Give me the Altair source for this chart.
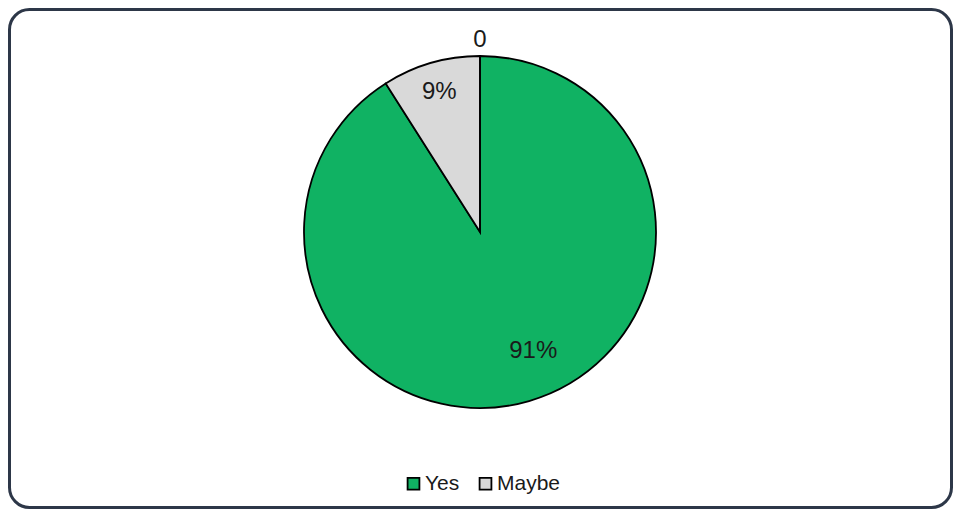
import altair as alt
import pandas as pd

categories = ["Yes", "Maybe", "No"]
values = [91, 9, 0]
labels = ["91%", "9%", "0"]
colors = ["#10b263", "#d9d9d9", "#ffffff"]

df = pd.DataFrame({"cat": categories, "value": values, "label": labels,
                   "ord": list(range(len(categories)))})

W, H = 945, 501
CX, CY = 472, 224
FONT = "Liberation Sans"

frame = alt.Chart(pd.DataFrame({"k": [0]})).mark_rect(
    fill="white", stroke="#2d3748", strokeWidth=3, cornerRadius=20
).encode(x=alt.value(1.5), x2=alt.value(W - 1.5), y=alt.value(1.5), y2=alt.value(H - 1.5))

base = alt.Chart(df).encode(
    theta=alt.Theta("value:Q", stack=True),
    order=alt.Order("ord:Q"),
    x=alt.value(CX), y=alt.value(CY),
)

arc = base.mark_arc(outerRadius=176, stroke="black", strokeWidth=1.8).encode(
    color=alt.Color("cat:N",
                    scale=alt.Scale(domain=categories, range=colors),
                    legend=alt.Legend(title=None, values=["Yes", "Maybe"], orient="none",
                                      direction="horizontal", legendX=395, legendY=465,
                                      symbolType="square", symbolSize=140,
                                      symbolStrokeColor="black", symbolStrokeWidth=1.8,
                                      symbolOpacity=1,
                                      labelFont=FONT, labelFontSize=21, labelColor="#1a1a1a",
                                      labelOffset=1, columnPadding=15, padding=0))
)

def lab(cat, radius, dx=0, dy=0):
    return base.mark_text(radius=radius, dx=dx, dy=dy, font=FONT, fontSize=24,
                          color="#1a1a1a").encode(
        text=alt.condition(f"datum.cat == '{cat}'", "label:N", alt.value(""))
    )

chart = alt.layer(
    frame, arc, lab("Yes", 130, 17, -6), lab("Maybe", 146), lab("No", 192)
).properties(width=W, height=H, padding=0, autosize="none").configure_view(stroke=None)

chart.save("out.html", embed_options={"renderer": "svg", "actions": False})
